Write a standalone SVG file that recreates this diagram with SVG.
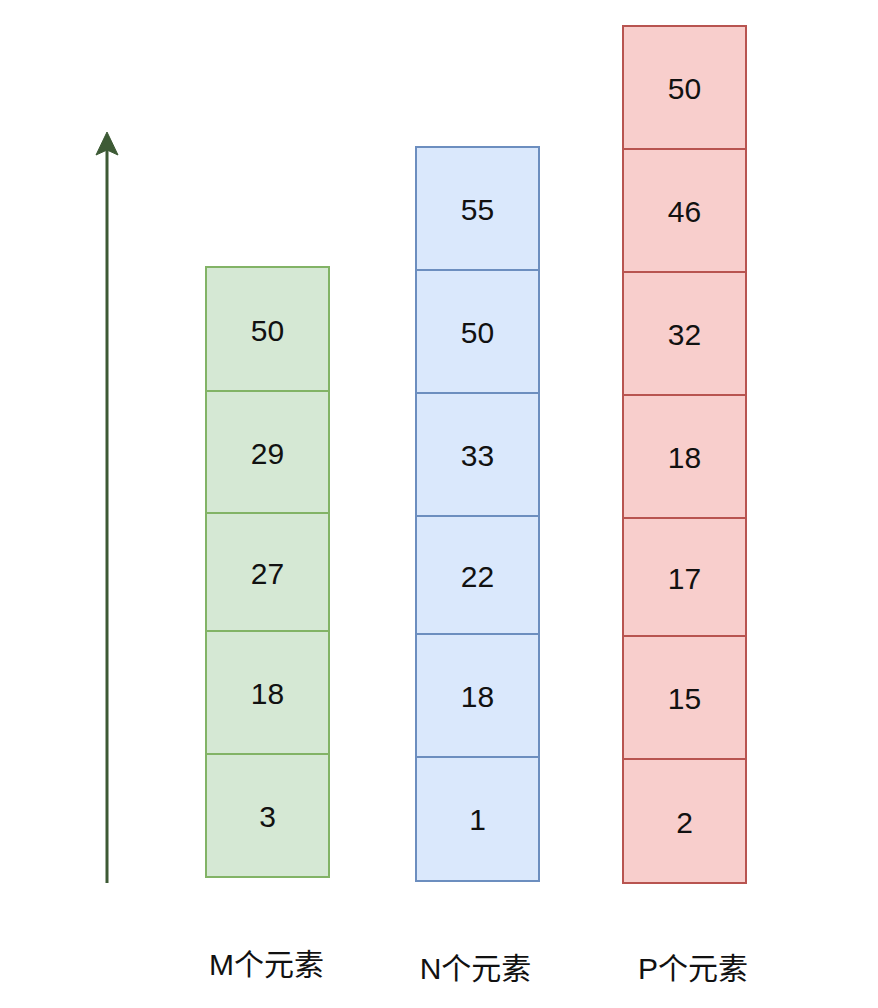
<svg xmlns="http://www.w3.org/2000/svg" width="878" height="1008" viewBox="0 0 878 1008">
<style>
.g rect{fill:#d5e8d4;stroke:#82b366;stroke-width:2}
.b rect{fill:#dae8fc;stroke:#6c8ebf;stroke-width:2}
.r rect{fill:#f8cecc;stroke:#b85450;stroke-width:2}
.n{font-family:"Liberation Sans",Arial,sans-serif;font-size:30px;fill:#111;text-anchor:middle}
.l{font-family:"Liberation Sans","Noto Sans CJK SC",sans-serif;font-size:30px;fill:#111;text-anchor:middle}
</style>
<rect width="878" height="1008" fill="#fff"/>
<g id="connectors">
<line x1="107" y1="883" x2="107" y2="148" stroke="#3d5a35" stroke-width="3"/>
<polygon points="107,132 118,155 107,150 96,155" fill="#3d5a35" stroke="#3d5a35" stroke-width="1"/>
</g>
<g id="colM" class="g">
<g id="m50"><rect x="206" y="267" width="123" height="124"/><text class="n" x="267.5" y="341">50</text></g>
<g id="m29"><rect x="206" y="391" width="123" height="122"/><text class="n" x="267.5" y="464">29</text></g>
<g id="m27"><rect x="206" y="513" width="123" height="118"/><text class="n" x="267.5" y="584">27</text></g>
<g id="m18"><rect x="206" y="631" width="123" height="123"/><text class="n" x="267.5" y="704">18</text></g>
<g id="m3"><rect x="206" y="754" width="123" height="123"/><text class="n" x="267.5" y="827">3</text></g>
</g>
<g id="colN" class="b">
<g id="n55"><rect x="416" y="147" width="123" height="123"/><text class="n" x="477.5" y="220">55</text></g>
<g id="n50"><rect x="416" y="270" width="123" height="123"/><text class="n" x="477.5" y="343">50</text></g>
<g id="n33"><rect x="416" y="393" width="123" height="123"/><text class="n" x="477.5" y="466">33</text></g>
<g id="n22"><rect x="416" y="516" width="123" height="118"/><text class="n" x="477.5" y="587">22</text></g>
<g id="n18"><rect x="416" y="634" width="123" height="123"/><text class="n" x="477.5" y="707">18</text></g>
<g id="n1"><rect x="416" y="757" width="123" height="124"/><text class="n" x="477.5" y="830">1</text></g>
</g>
<g id="colP" class="r">
<g id="p50"><rect x="623" y="26" width="123" height="123"/><text class="n" x="684.5" y="99">50</text></g>
<g id="p46"><rect x="623" y="149" width="123" height="123"/><text class="n" x="684.5" y="222">46</text></g>
<g id="p32"><rect x="623" y="272" width="123" height="123"/><text class="n" x="684.5" y="345">32</text></g>
<g id="p18"><rect x="623" y="395" width="123" height="123"/><text class="n" x="684.5" y="468">18</text></g>
<g id="p17"><rect x="623" y="518" width="123" height="118"/><text class="n" x="684.5" y="589">17</text></g>
<g id="p15"><rect x="623" y="636" width="123" height="123"/><text class="n" x="684.5" y="709">15</text></g>
<g id="p2"><rect x="623" y="759" width="123" height="124"/><text class="n" x="684.5" y="833">2</text></g>
</g>
<g id="labels">
<text class="l" x="266.5" y="975">M个元素</text>
<text class="l" x="475.5" y="979">N个元素</text>
<text class="l" x="693" y="979">P个元素</text>
</g>
</svg>
